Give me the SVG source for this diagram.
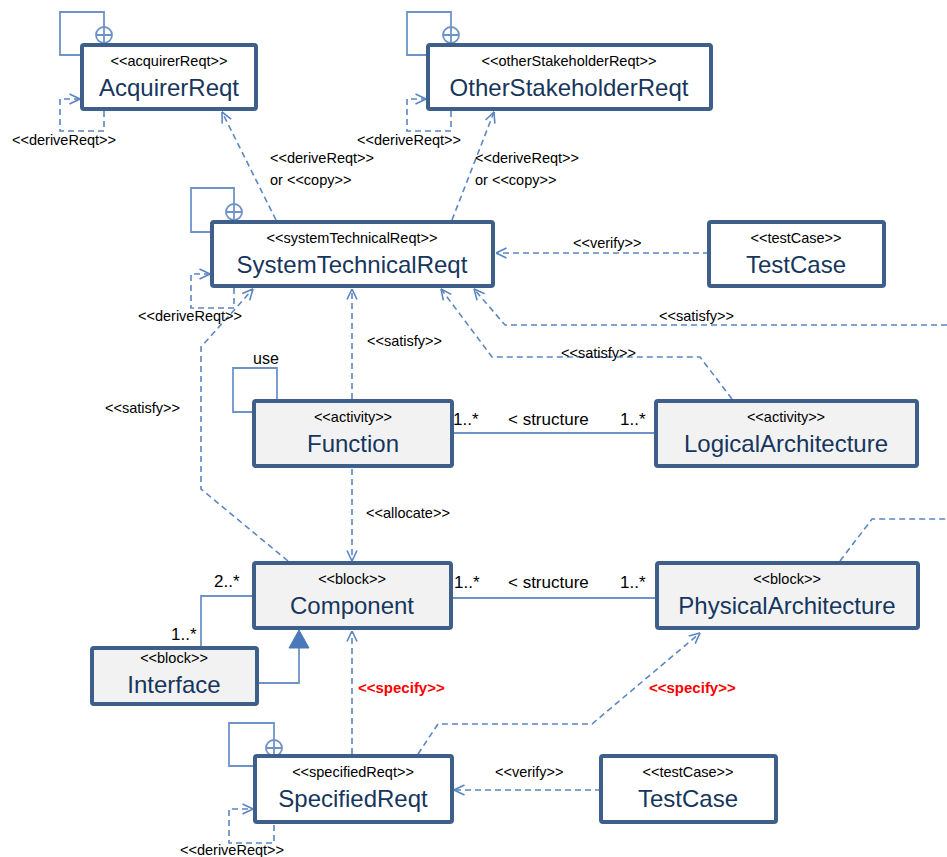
<svg xmlns="http://www.w3.org/2000/svg" width="947" height="857" viewBox="0 0 947 857">
<style>
.box{stroke:#3E5F8A;stroke-width:4}
.req{fill:#FFFFFF}
.blk{fill:#F2F2F2}
.st{font-family:"Liberation Sans",Arial,sans-serif;font-size:14.5px;fill:#000;text-anchor:middle}
.nm{font-family:"Liberation Sans",Arial,sans-serif;font-size:24px;fill:#17365D;text-anchor:middle}
.lb{font-family:"Liberation Sans",Arial,sans-serif;font-size:14.5px;fill:#000}
.mul{font-family:"Liberation Sans",Arial,sans-serif;font-size:17px;fill:#000}
.red{font-family:"Liberation Sans",Arial,sans-serif;font-size:15px;font-weight:bold;fill:#FF0000}
.dash{fill:none;stroke:#5B86C2;stroke-width:1.6;stroke-dasharray:6 4}
.solid{fill:none;stroke:#6E93C8;stroke-width:1.8}
</style>
<defs>
<marker id="open" viewBox="0 0 12 12" refX="11.5" refY="6" markerWidth="12" markerHeight="12" markerUnits="userSpaceOnUse" orient="auto">
<path d="M1,1 L11.5,6 L1,11" fill="none" stroke="#5B86C2" stroke-width="1.6"/>
</marker>
</defs>
<rect width="947" height="857" fill="#FFFFFF"/>
<g id="connectors">
<!-- containment symbols -->
<path class="solid" d="M82,55 H60 V12 H104 V27"/>
<circle class="solid" cx="104" cy="35" r="8"/>
<path class="solid" d="M96,35 H112 M104,27 V43"/>
<path class="solid" d="M428,55 H407 V12 H451 V27"/>
<circle class="solid" cx="451" cy="35" r="8"/>
<path class="solid" d="M443,35 H459 M451,27 V43"/>
<path class="solid" d="M212,232 H191 V188 H234 V204"/>
<circle class="solid" cx="234" cy="212" r="8"/>
<path class="solid" d="M226,212 H242 M234,204 V220"/>
<path class="solid" d="M255,766 H229 V723 H274 V740"/>
<circle class="solid" cx="274" cy="748" r="8"/>
<path class="solid" d="M266,748 H282 M274,740 V756"/>
<!-- derive self loops -->
<path class="dash" d="M104,111 V131 H60 V99 H80" marker-end="url(#open)"/>
<path class="dash" d="M451,111 V131 H407 V99 H426" marker-end="url(#open)"/>
<path class="dash" d="M234,288 V308 H191 V274 H210" marker-end="url(#open)"/>
<path class="dash" d="M274,825 V843 H229 V809 H253" marker-end="url(#open)"/>
<!-- derive/copy -->
<path class="dash" d="M276,220 L222,112" marker-end="url(#open)"/>
<path class="dash" d="M452,220 L494,112" marker-end="url(#open)"/>
<!-- verify -->
<path class="dash" d="M709,253 H496" marker-end="url(#open)"/>
<path class="dash" d="M601,790 H454" marker-end="url(#open)"/>
<!-- satisfy -->
<path class="dash" d="M947,325 H505 L474,289" marker-end="url(#open)"/>
<path class="dash" d="M732,399 L700,357 H492 L441,289" marker-end="url(#open)"/>
<path class="dash" d="M352,399 V289" marker-end="url(#open)"/>
<path class="dash" d="M288,561 L201,489 V347 L253,289" marker-end="url(#open)"/>
<!-- allocate -->
<path class="dash" d="M352,469 V561" marker-end="url(#open)"/>
<!-- specify -->
<path class="dash" d="M352,754 V631" marker-end="url(#open)"/>
<path class="dash" d="M418,754 L438,724 H592 L700,633" marker-end="url(#open)"/>
<!-- PA satisfy off-page -->
<path class="dash" d="M840,561 L872,519 H947"/>
<!-- use loop -->
<path class="solid" d="M254,412 H233 V368 H277 V399"/>
<!-- associations -->
<path class="solid" d="M454,433 H654"/>
<path class="solid" d="M453,598 H655"/>
<path class="solid" d="M201,646 V596 H252"/>
<!-- generalization -->
<path class="solid" d="M259,683 H299 V647"/>
<path d="M299,630 L289,648 L309,648 Z" fill="#4A78B8" stroke="#4A78B8" stroke-width="1"/>
</g>
<g id="labels">
<text class="lb" x="12" y="145">&lt;&lt;deriveReqt&gt;&gt;</text>
<text class="lb" x="357" y="145">&lt;&lt;deriveReqt&gt;&gt;</text>
<text class="lb" x="270" y="163">&lt;&lt;deriveReqt&gt;&gt;</text>
<text class="lb" x="270" y="185">or &lt;&lt;copy&gt;&gt;</text>
<text class="lb" x="475" y="163">&lt;&lt;deriveReqt&gt;&gt;</text>
<text class="lb" x="475" y="185">or &lt;&lt;copy&gt;&gt;</text>
<text class="lb" x="138" y="321">&lt;&lt;deriveReqt&gt;&gt;</text>
<text class="lb" x="573" y="248">&lt;&lt;verify&gt;&gt;</text>
<text class="lb" x="659" y="321">&lt;&lt;satisfy&gt;&gt;</text>
<text class="lb" x="561" y="358">&lt;&lt;satisfy&gt;&gt;</text>
<text class="lb" x="367" y="346">&lt;&lt;satisfy&gt;&gt;</text>
<text class="lb" x="105" y="413">&lt;&lt;satisfy&gt;&gt;</text>
<text class="lb" x="253" y="364" style="font-size:16px">use</text>
<text class="mul" x="453" y="425">1..*</text>
<text class="mul" x="508" y="425">&lt; structure</text>
<text class="mul" x="620" y="425">1..*</text>
<text class="lb" x="366" y="518">&lt;&lt;allocate&gt;&gt;</text>
<text class="mul" x="214" y="587">2..*</text>
<text class="mul" x="171" y="640">1..*</text>
<text class="mul" x="454" y="588">1..*</text>
<text class="mul" x="508" y="588">&lt; structure</text>
<text class="mul" x="620" y="588">1..*</text>
<text class="red" x="358" y="693">&lt;&lt;specify&gt;&gt;</text>
<text class="red" x="649" y="693">&lt;&lt;specify&gt;&gt;</text>
<text class="lb" x="495" y="777">&lt;&lt;verify&gt;&gt;</text>
<text class="lb" x="180" y="855">&lt;&lt;deriveReqt&gt;&gt;</text>
</g>
<g id="AcquirerReqt">
<rect class="box req" x="82" y="45" width="174" height="64" rx="2"/>
<text class="st" x="169" y="66">&lt;&lt;acquirerReqt&gt;&gt;</text>
<text class="nm" x="169" y="96">AcquirerReqt</text>
</g>
<g id="OtherStakeholderReqt">
<rect class="box req" x="428" y="45" width="283" height="64" rx="2"/>
<text class="st" x="569" y="66">&lt;&lt;otherStakeholderReqt&gt;&gt;</text>
<text class="nm" x="569" y="96">OtherStakeholderReqt</text>
</g>
<g id="SystemTechnicalReqt">
<rect class="box req" x="212" y="222" width="281" height="64" rx="2"/>
<text class="st" x="352" y="243">&lt;&lt;systemTechnicalReqt&gt;&gt;</text>
<text class="nm" x="352" y="273">SystemTechnicalReqt</text>
</g>
<g id="TestCase1">
<rect class="box req" x="709" y="222" width="175" height="64" rx="2"/>
<text class="st" x="796" y="243">&lt;&lt;testCase&gt;&gt;</text>
<text class="nm" x="796" y="273">TestCase</text>
</g>
<g id="Function">
<rect class="box blk" x="254" y="401" width="198" height="65" rx="2"/>
<text class="st" x="353" y="422">&lt;&lt;activity&gt;&gt;</text>
<text class="nm" x="353" y="452">Function</text>
</g>
<g id="LogicalArchitecture">
<rect class="box blk" x="656" y="401" width="261" height="65" rx="2"/>
<text class="st" x="786" y="422">&lt;&lt;activity&gt;&gt;</text>
<text class="nm" x="786" y="452">LogicalArchitecture</text>
</g>
<g id="Component">
<rect class="box blk" x="254" y="563" width="197" height="65" rx="2"/>
<text class="st" x="352" y="584">&lt;&lt;block&gt;&gt;</text>
<text class="nm" x="352" y="614">Component</text>
</g>
<g id="PhysicalArchitecture">
<rect class="box blk" x="657" y="563" width="261" height="65" rx="2"/>
<text class="st" x="787" y="584">&lt;&lt;block&gt;&gt;</text>
<text class="nm" x="787" y="614">PhysicalArchitecture</text>
</g>
<g id="Interface">
<rect class="box blk" x="92" y="648" width="165" height="56" rx="2"/>
<text class="st" x="174" y="663">&lt;&lt;block&gt;&gt;</text>
<text class="nm" x="174" y="693">Interface</text>
</g>
<g id="SpecifiedReqt">
<rect class="box req" x="255" y="756" width="197" height="66" rx="2"/>
<text class="st" x="353" y="777">&lt;&lt;specifiedReqt&gt;&gt;</text>
<text class="nm" x="353" y="807">SpecifiedReqt</text>
</g>
<g id="TestCase2">
<rect class="box req" x="601" y="756" width="175" height="66" rx="2"/>
<text class="st" x="688" y="777">&lt;&lt;testCase&gt;&gt;</text>
<text class="nm" x="688" y="807">TestCase</text>
</g>
</svg>
